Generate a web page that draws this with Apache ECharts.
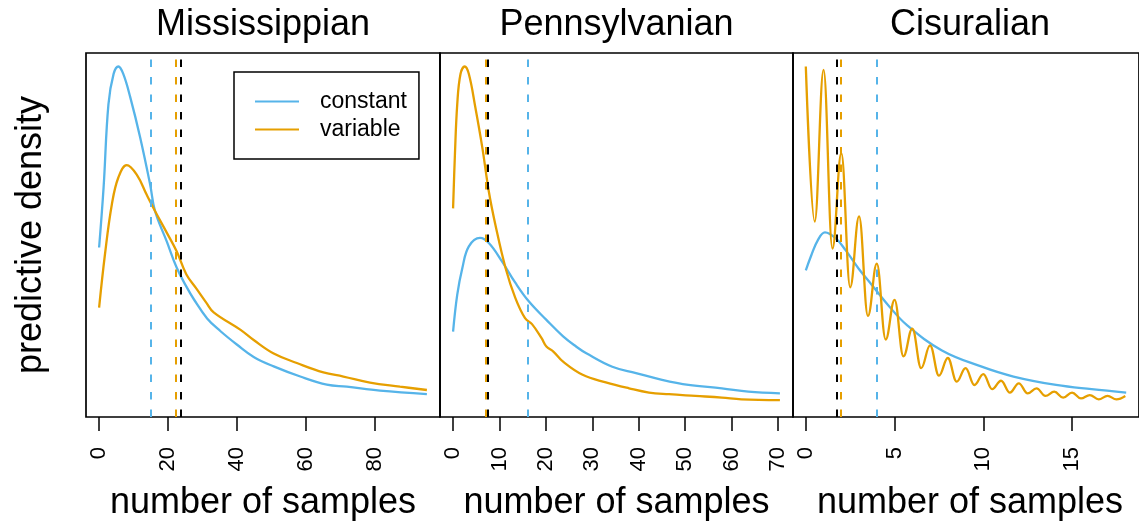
<!DOCTYPE html>
<html>
<head>
<meta charset="utf-8">
<title>Predictive density of number of samples</title>
<script src="https://cdn.jsdelivr.net/npm/echarts@6/dist/echarts.min.js"></script>
<style>
  html, body { margin: 0; padding: 0; background: #fff; }
  #chart { width: 1139px; height: 529px; }
</style>
</head>
<body>
<div id="chart"></div>
<script>
// ---- Panel titles and tick labels ----
const periods = ['Mississippian', 'Pennsylvanian', 'Cisuralian'];
const xTicks1 = [0, 20, 40, 60, 80];
const xTicks2 = [0, 10, 20, 30, 40, 50, 60, 70];
const xTicks3 = [0, 5, 10, 15];

// ---- Mississippian ----
const constX1 = [0, 1.3, 2.7, 4.2, 5.6, 7.0, 9.0, 11.9, 14.8, 16.2, 19.6, 22.5, 25.3, 27.5, 31.3, 35.2, 40, 44.8, 50.6, 58.3, 66, 71.8, 81.4, 95];
const constY1 = [0.0231, 0.0320, 0.0443, 0.0488, 0.0499, 0.0488, 0.0454, 0.0394, 0.0324, 0.0285, 0.0240, 0.0201, 0.0173, 0.0154, 0.0126, 0.0107, 0.0087, 0.0069, 0.0055, 0.0040, 0.0028, 0.0025, 0.0019, 0.0014];
const varX1 = [0, 1.7, 3.7, 5.6, 8.0, 10.9, 13.8, 16.2, 19.6, 22.5, 25.3, 28.2, 31.1, 33.2, 41, 44.8, 50.6, 57.3, 65, 70.8, 78.5, 87.2, 95];
const varY1 = [0.0142, 0.0221, 0.0295, 0.0335, 0.0353, 0.0339, 0.0309, 0.0285, 0.0253, 0.0225, 0.0191, 0.0170, 0.0149, 0.0135, 0.0109, 0.0094, 0.0074, 0.0060, 0.0046, 0.0040, 0.0031, 0.0025, 0.0020];
const refLines1 = { constant: 15.1, variable: 22.2, overall: 23.6 };

// ---- Pennsylvanian ----
const constX2 = [0, 0.9, 2.0, 3.4, 5.8, 7.7, 10.5, 13.4, 16.3, 20.1, 23.7, 26.5, 28.7, 34.3, 39.4, 45, 50.7, 57.9, 63.6, 70.4];
const constY2 = [0.0170, 0.0258, 0.0321, 0.0372, 0.0392, 0.0380, 0.0337, 0.0286, 0.0242, 0.0198, 0.0159, 0.0135, 0.0119, 0.0087, 0.0072, 0.0056, 0.0044, 0.0036, 0.0028, 0.0024];
const varX2 = [0, 0.4, 0.9, 1.6, 2.5, 3.4, 4.8, 6.3, 7.7, 9.1, 11.3, 13.4, 15.5, 17.0, 19.1, 20.1, 21.6, 23.7, 27.9, 32.9, 37.9, 42.2, 46.5, 52.2, 57.9, 62.1, 70.4];
const varY2 = [0.0462, 0.0590, 0.0709, 0.0780, 0.0798, 0.0780, 0.0701, 0.0606, 0.0502, 0.0424, 0.0321, 0.0250, 0.0202, 0.0188, 0.0154, 0.0135, 0.0123, 0.0099, 0.0068, 0.0050, 0.0036, 0.0026, 0.0022, 0.0018, 0.0014, 0.0010, 0.0008];
const refLines2 = { constant: 16.0, variable: 7.0, overall: 7.4 };

// ---- Cisuralian ----
const constX3 = [0, 0.31, 0.68, 1.08, 1.69, 2.24, 2.98, 3.71, 4.63, 5.7, 7.67, 9.87, 11.7, 14.1, 16.1, 18.05];
const constY3 = [0.158, 0.176, 0.194, 0.203, 0.196, 0.182, 0.160, 0.141, 0.117, 0.093, 0.063, 0.044, 0.032, 0.022, 0.017, 0.013];
const varX3 = [0, 0.5, 1, 1.5, 2, 2.5, 3, 3.5, 4, 4.5, 5, 5.5, 6, 6.5, 7, 7.5, 8, 8.5, 9, 9.5, 10, 10.5, 11, 11.5, 12, 12.5, 13, 13.5, 14, 14.5, 15, 15.5, 16, 16.5, 17, 17.5, 18];
const varY3 = [0.400, 0.216, 0.396, 0.184, 0.297, 0.138, 0.222, 0.104, 0.166, 0.076, 0.123, 0.056, 0.089, 0.042, 0.069, 0.033, 0.054, 0.026, 0.042, 0.022, 0.035, 0.017, 0.027, 0.013, 0.024, 0.012, 0.018, 0.009, 0.014, 0.007, 0.013, 0.006, 0.010, 0.005, 0.009, 0.005, 0.009];
const refLines3 = { constant: 3.99, variable: 1.97, overall: 1.74 };

// ---- Styling ----
const BLUE = '#56B4E9';
const ORANGE = '#E69F00';
const FONT = '"Liberation Sans", Arial, Helvetica, sans-serif';
const CURVE_WIDTH = 2.3;

const panels = [
  { title: periods[0], ticks: xTicks1, cx: constX1, cy: constY1, vx: varX1, vy: varY1, ref: refLines1, grid: { left: 86, width: 354 } },
  { title: periods[1], ticks: xTicks2, cx: constX2, cy: constY2, vx: varX2, vy: varY2, ref: refLines2, grid: { left: 440, width: 353 } },
  { title: periods[2], ticks: xTicks3, cx: constX3, cy: constY3, vx: varX3, vy: varY3, ref: refLines3, grid: { left: 793, width: 354 } }
];

const zip = (xs, ys) => xs.map((x, i) => [x, ys[i]]);
// 4% padding around the data range on both ends
const padRange = (lo, hi) => { const d = (hi - lo) * 0.04; return [lo - d, hi + d]; };

const grids = [], xAxes = [], yAxes = [], series = [], graphics = [];
const PLOT_TOP = 53, PLOT_BOTTOM = 417;

panels.forEach((p, i) => {
  grids.push({
    left: p.grid.left, width: p.grid.width, top: PLOT_TOP, height: PLOT_BOTTOM - PLOT_TOP,
    show: true, borderColor: '#000', borderWidth: 1.7, backgroundColor: 'transparent',
    containLabel: false
  });
  const xs = p.cx.concat(p.vx);
  const [xmin, xmax] = padRange(Math.min(...xs), Math.max(...xs));
  const ymax = Math.max(...p.cy, ...p.vy);
  const [ylo, yhi] = padRange(0, ymax);
  xAxes.push({
    type: 'value', gridIndex: i, min: xmin, max: xmax,
    axisLine: { show: false, onZero: false },
    splitLine: { show: false },
    axisTick: { show: true, customValues: p.ticks, length: 14, lineStyle: { color: '#000', width: 1.5 } },
    axisLabel: {
      show: true, customValues: p.ticks, rotate: 90, margin: 30,
      color: '#000', fontSize: 22, fontFamily: FONT
    }
  });
  yAxes.push({
    type: 'value', gridIndex: i, min: ylo, max: yhi,
    show: false, splitLine: { show: false }
  });

  const dash = [7.5, 10];
  series.push({
    name: 'constant', type: 'line', xAxisIndex: i, yAxisIndex: i,
    data: zip(p.cx, p.cy), smooth: 0.4, symbol: 'none',
    lineStyle: { color: BLUE, width: CURVE_WIDTH }, itemStyle: { color: BLUE },
    silent: true, z: 3
  });
  // the Cisuralian "variable" curve oscillates between integer counts:
  // horizontal tangents at every extremum give it a wave shape
  const wavy = i === 2;
  series.push({
    name: 'variable', type: 'line', xAxisIndex: i, yAxisIndex: i,
    data: zip(p.vx, p.vy), smooth: 0.4, smoothMonotone: wavy ? 'x' : undefined,
    symbol: 'none',
    lineStyle: { color: ORANGE, width: CURVE_WIDTH }, itemStyle: { color: ORANGE },
    silent: true, z: 3,
    markLine: {
      silent: true, symbol: 'none', label: { show: false }, animation: false,
      data: [
        { xAxis: p.ref.constant, lineStyle: { color: BLUE, type: dash, width: 2 } },
        { xAxis: p.ref.variable, lineStyle: { color: ORANGE, type: dash, width: 2 } },
        { xAxis: p.ref.overall, lineStyle: { color: '#000', type: dash, width: 2 } }
      ]
    }
  });

  graphics.push({
    type: 'text', x: p.grid.left + p.grid.width / 2, y: 25, silent: true,
    style: { text: p.title, font: '36px ' + FONT, fill: '#000', align: 'center', verticalAlign: 'middle' }
  });
  graphics.push({
    type: 'text', x: p.grid.left + p.grid.width / 2, y: 503, silent: true,
    style: { text: 'number of samples', font: '36px ' + FONT, fill: '#000', align: 'center', verticalAlign: 'middle' }
  });
});

graphics.push({
  type: 'text', x: 31, y: 235, rotation: Math.PI / 2, silent: true,
  style: { text: 'predictive density', font: '36px ' + FONT, fill: '#000', align: 'center', verticalAlign: 'middle' }
});

const chart = echarts.init(document.getElementById('chart'), null, { renderer: 'canvas' });
chart.setOption({
  animation: false,
  backgroundColor: '#fff',
  grid: grids,
  xAxis: xAxes,
  yAxis: yAxes,
  series: series,
  legend: {
    data: ['constant', 'variable'],
    icon: 'rect',
    orient: 'vertical', left: 234, top: 72,
    padding: [18, 12, 18, 21],
    itemWidth: 44, itemHeight: 2, itemGap: 5,
    borderColor: '#000', borderWidth: 1.5, borderRadius: 0,
    selectedMode: false,
    textStyle: { fontSize: 23, lineHeight: 22, color: '#000', fontFamily: FONT, padding: [0, 0, 0, 16] }
  },
  graphic: graphics
});
</script>
</body>
</html>
